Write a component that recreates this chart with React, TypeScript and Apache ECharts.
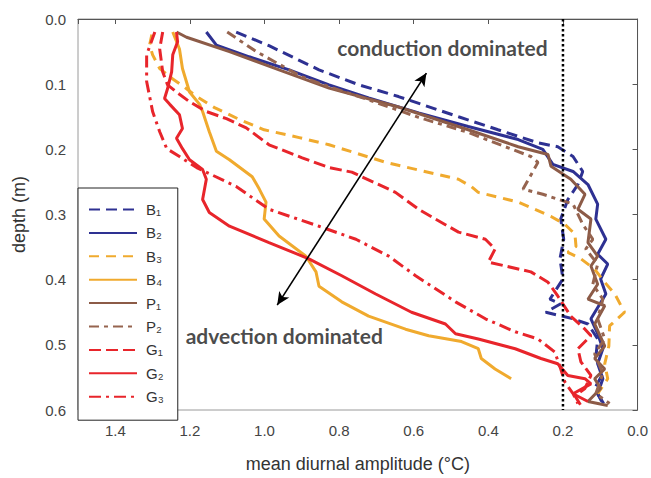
import React, { useEffect, useRef } from "react";
import * as echarts from "echarts";

// ---- axis settings ----
const xRange = [0, 1.5];
const xStep = 0.2;
const yRange = [0, 0.6];
const yStep = 0.1;
const xTitle = "mean diurnal amplitude (°C)";
const yTitle = "depth (m)";

// ---- series names (legend) ----
const seriesNames = ["B₁", "B₂", "B₃", "B₄", "P₁", "P₂", "G₁", "G₂", "G₃"];

// ---- data: [amplitude (°C), depth (m)] ----
const B1: number[][] = [
  [1.076, 0.02], [0.988, 0.041], [0.854, 0.078], [0.747, 0.101], [0.641, 0.119],
  [0.48, 0.15], [0.374, 0.17], [0.267, 0.19], [0.214, 0.196], [0.173, 0.211],
  [0.147, 0.234], [0.16, 0.254], [0.187, 0.277], [0.206, 0.307], [0.198, 0.338],
  [0.208, 0.368], [0.2, 0.399], [0.235, 0.43], [0.206, 0.437], [0.246, 0.45],
  [0.173, 0.46], [0.133, 0.468], [0.107, 0.491], [0.112, 0.521], [0.093, 0.544],
  [0.115, 0.567], [0.093, 0.59],
];
const B2: number[][] = [
  [1.156, 0.02], [1.129, 0.04], [1.041, 0.058], [0.934, 0.078], [0.827, 0.101],
  [0.721, 0.121], [0.587, 0.144], [0.454, 0.165], [0.32, 0.185], [0.254, 0.2],
  [0.227, 0.223], [0.173, 0.234], [0.133, 0.254], [0.107, 0.284], [0.112, 0.307],
  [0.085, 0.338], [0.107, 0.361], [0.08, 0.376], [0.099, 0.399], [0.085, 0.422],
  [0.125, 0.46], [0.107, 0.483], [0.093, 0.506], [0.107, 0.529], [0.093, 0.552],
  [0.107, 0.575], [0.091, 0.59],
];
const B3: number[][] = [
  [1.302, 0.024], [1.308, 0.04], [1.3, 0.055], [1.281, 0.076], [1.246, 0.092],
  [1.209, 0.107], [1.182, 0.119], [1.134, 0.136], [1.068, 0.154], [1.001, 0.17],
  [0.907, 0.182], [0.827, 0.193], [0.675, 0.22], [0.48, 0.246], [0.446, 0.257],
  [0.427, 0.266], [0.32, 0.281], [0.232, 0.303], [0.195, 0.315], [0.168, 0.33],
  [0.165, 0.349], [0.187, 0.358], [0.152, 0.368], [0.115, 0.384], [0.088, 0.404],
  [0.061, 0.422], [0.035, 0.45], [0.075, 0.471], [0.077, 0.502], [0.088, 0.529],
  [0.08, 0.552], [0.107, 0.575],
];
const B4: number[][] = [
  [1.246, 0.02], [1.228, 0.046], [1.22, 0.076], [1.201, 0.112], [1.174, 0.131],
  [1.166, 0.142], [1.148, 0.173], [1.129, 0.203], [1.094, 0.216], [1.033, 0.242],
  [1.014, 0.261], [0.996, 0.281], [1.001, 0.307], [0.961, 0.333], [0.889, 0.364],
  [0.862, 0.388], [0.854, 0.41], [0.793, 0.434], [0.721, 0.456], [0.622, 0.476],
  [0.56, 0.486], [0.472, 0.495], [0.427, 0.506], [0.419, 0.521], [0.382, 0.537],
  [0.339, 0.552],
];
const P1: number[][] = [
  [1.236, 0.02], [1.209, 0.028], [1.094, 0.05], [0.961, 0.078], [0.827, 0.106],
  [0.641, 0.135], [0.454, 0.17], [0.32, 0.196], [0.24, 0.208], [0.232, 0.226],
  [0.179, 0.246], [0.141, 0.269], [0.16, 0.292], [0.125, 0.307], [0.133, 0.343],
  [0.107, 0.364], [0.125, 0.379], [0.107, 0.407], [0.133, 0.43], [0.088, 0.44],
  [0.115, 0.468], [0.088, 0.502], [0.115, 0.521], [0.088, 0.537], [0.115, 0.552],
  [0.099, 0.567], [0.133, 0.587], [0.08, 0.593],
];
const P2: number[][] = [
  [1.1, 0.02], [1.022, 0.05], [0.899, 0.089], [0.827, 0.104], [0.721, 0.124],
  [0.587, 0.151], [0.454, 0.174], [0.355, 0.196], [0.286, 0.211], [0.267, 0.22],
  [0.307, 0.261], [0.254, 0.269], [0.173, 0.284], [0.147, 0.315], [0.12, 0.338],
  [0.139, 0.353], [0.107, 0.376], [0.12, 0.407], [0.093, 0.43], [0.107, 0.46],
  [0.088, 0.491], [0.115, 0.514], [0.093, 0.544], [0.112, 0.575], [0.075, 0.59],
];
const G1: number[][] = [
  [1.273, 0.02], [1.281, 0.046], [1.273, 0.081], [1.26, 0.101], [1.236, 0.112],
  [1.201, 0.127], [1.156, 0.142], [1.102, 0.153], [1.049, 0.167], [0.988, 0.193],
  [0.899, 0.213], [0.827, 0.228], [0.766, 0.235], [0.649, 0.266], [0.587, 0.292],
  [0.542, 0.307], [0.48, 0.327], [0.408, 0.338], [0.382, 0.353], [0.4, 0.373],
  [0.355, 0.379], [0.286, 0.388], [0.24, 0.404], [0.214, 0.425], [0.179, 0.456],
  [0.141, 0.476], [0.125, 0.486], [0.16, 0.506], [0.152, 0.526], [0.125, 0.547],
  [0.141, 0.567], [0.168, 0.578], [0.152, 0.593],
];
const G2: number[][] = [
  [1.236, 0.02], [1.233, 0.035], [1.246, 0.055], [1.249, 0.081], [1.26, 0.107],
  [1.268, 0.122], [1.254, 0.131], [1.228, 0.147], [1.22, 0.168], [1.236, 0.183],
  [1.22, 0.199], [1.201, 0.216], [1.166, 0.231], [1.156, 0.246], [1.166, 0.277],
  [1.148, 0.297], [1.094, 0.318], [0.988, 0.343], [0.881, 0.368], [0.793, 0.394],
  [0.702, 0.422], [0.606, 0.45], [0.515, 0.468], [0.488, 0.483], [0.427, 0.491],
  [0.328, 0.506], [0.259, 0.521], [0.214, 0.529], [0.187, 0.547], [0.141, 0.552],
  [0.125, 0.56], [0.173, 0.575], [0.133, 0.587],
];
const G3: number[][] = [
  [1.294, 0.02], [1.316, 0.055], [1.316, 0.096], [1.3, 0.142], [1.281, 0.173],
  [1.262, 0.199], [1.228, 0.211], [1.182, 0.228], [1.076, 0.257], [0.988, 0.292],
  [0.854, 0.318], [0.755, 0.338], [0.667, 0.364], [0.595, 0.394], [0.488, 0.434],
  [0.408, 0.46], [0.328, 0.48], [0.267, 0.491], [0.222, 0.511], [0.206, 0.537],
  [0.195, 0.557], [0.173, 0.575], [0.16, 0.59],
];
const seriesData = [B1, B2, B3, B4, P1, P2, G1, G2, G3];

// reference line (x = 0.2) and arrow endpoints
const refLine: number[][] = [[0.2, 0], [0.2, 0.6]];
const arrowFrom = [0.966, 0.439];
const arrowTo = [0.566, 0.083];
const annotations = [
  { text: "conduction dominated", value: [0.523, 0.043] },
  { text: "advection dominated", value: [0.947, 0.486] },
];

// ---- styles ----
const BLUE = "#2E3192";
const ORANGE = "#F0AA2E";
const BROWN = "#8C5B47";
const RED = "#E8252B";
const styles: { color: string; type: any }[] = [
  { color: BLUE, type: [11, 6] },
  { color: BLUE, type: "solid" },
  { color: ORANGE, type: [10, 7] },
  { color: ORANGE, type: "solid" },
  { color: BROWN, type: "solid" },
  { color: "#96644F", type: [10, 5, 4, 5] },
  { color: RED, type: [12, 5] },
  { color: RED, type: "solid" },
  { color: RED, type: [12, 5, 3, 5] },
];

const FONT = "Arial, 'Liberation Sans', sans-serif";

export default function App() {
  const ref = useRef<HTMLDivElement>(null);
  useEffect(() => {
    document.body.style.margin = "0";
    const chart = echarts.init(ref.current!, null, { renderer: "svg" });
    const lineSeries = seriesNames.map((name, i) => ({
      name,
      type: "line",
      data: seriesData[i],
      symbol: "none",
      showSymbol: false,
      lineStyle: { color: styles[i].color, width: 3, type: styles[i].type },
      itemStyle: { color: styles[i].color },
      z: 2,
    }));
    const option: any = {
      animation: false,
      backgroundColor: "#fff",
      grid: {
        left: 78, right: 11, top: 19, bottom: 66,
        show: true, borderColor: "#9a9a9a", borderWidth: 1,
      },
      xAxis: {
        type: "value",
        min: xRange[0], max: xRange[1], interval: xStep,
        inverse: true,
        name: xTitle, nameLocation: "middle", nameGap: 45,
        nameTextStyle: { fontSize: 18, color: "#333", fontFamily: FONT },
        axisLine: { show: true, lineStyle: { color: "#555", width: 1 } },
        axisTick: { show: true, length: 5, lineStyle: { color: "#555" } },
        axisLabel: {
          margin: 13, fontSize: 15, color: "#444", fontFamily: FONT,
          formatter: (v: number) => (Math.abs(v / xStep - Math.round(v / xStep)) < 1e-6 ? v.toFixed(1) : ""),
        },
        splitLine: { show: false },
      },
      yAxis: {
        type: "value",
        min: yRange[0], max: yRange[1], interval: yStep,
        inverse: true,
        name: yTitle, nameLocation: "middle", nameGap: 50,
        nameTextStyle: { fontSize: 18, color: "#333", fontFamily: FONT },
        axisLine: { show: true, lineStyle: { color: "#555", width: 1 } },
        axisTick: { show: true, length: 5, lineStyle: { color: "#555" } },
        axisLabel: {
          margin: 12, fontSize: 15, color: "#444", fontFamily: FONT,
          formatter: (v: number) => v.toFixed(1),
        },
        splitLine: { show: false },
      },
      legend: {
        data: seriesNames,
        orient: "vertical",
        left: 78, top: 188,
        padding: [14, 14, 16, 10],
        itemWidth: 48, itemHeight: 14, itemGap: 8.4,
        backgroundColor: "#fff", borderColor: "#222", borderWidth: 1,
        itemStyle: { opacity: 0 },
        textStyle: { fontSize: 15, color: "#333", fontFamily: FONT, padding: [0, 0, 0, 4] },
        selectedMode: false,
      },
      series: [
        ...lineSeries,
        {
          name: "ref",
          type: "line",
          data: refLine,
          symbol: "none",
          silent: true,
          lineStyle: { color: "#000", width: 2.5, type: [2.5, 2.5] },
          z: 3,
          markLine: {
            silent: true,
            symbol: ["arrow", "arrow"],
            symbolSize: [9, 13],
            label: { show: false },
            lineStyle: { color: "#000", width: 1.6, type: "solid" },
            data: [[{ coord: arrowFrom }, { coord: arrowTo }]],
          },
        },
        {
          name: "notes",
          type: "scatter",
          symbolSize: 0,
          silent: true,
          data: annotations.map((a) => ({ value: a.value, name: a.text })),
          label: {
            show: true,
            position: "inside",
            formatter: (p: any) => p.name,
            fontSize: 21,
            fontWeight: "bold",
            color: "#1a1a1a",
            fontFamily: "Lato, 'Open Sans', sans-serif",
          },
          z: 4,
        },
      ],
    };
    chart.setOption(option);
    return () => chart.dispose();
  }, []);
  return <div ref={ref} style={{ width: 651, height: 478 }} />;
}
